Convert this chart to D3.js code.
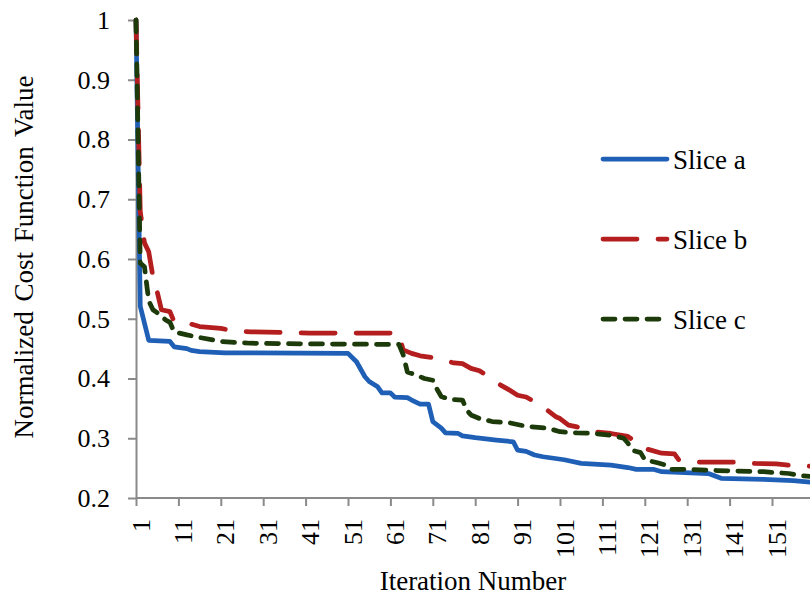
<!DOCTYPE html>
<html>
<head>
<meta charset="utf-8">
<script src="https://cdn.jsdelivr.net/npm/d3@7"></script>
<style>
  body { margin: 0; background: #fff; }
  text { font-family: "Liberation Serif", "Times New Roman", serif; fill: #000; }
</style>
</head>
<body>
<script>
// values: [iteration, normalized cost]
var sliceA = [[1,1.0],[2,0.521],[4,0.464],[9,0.462],[10,0.453],[13,0.450],[14,0.447],[16,0.445],[22,0.443],[51,0.442],
  [53,0.428],[55,0.403],[56,0.395],[58,0.386],[59,0.376],[61,0.376],[62,0.369],[65,0.368],[66,0.364],[68,0.357],
  [70,0.357],[71,0.328],[73,0.317],[74,0.309],[77,0.308],[78,0.304],[81,0.301],[86,0.297],[90,0.294],[91,0.280],
  [93,0.278],[95,0.272],[97,0.269],[102,0.264],[106,0.258],[113,0.255],[117,0.251],[119,0.248],[123,0.248],[125,0.244],
  [136,0.241],[139,0.233],[149,0.231],[156,0.229],[161,0.226]]

var sliceB = [[1,1.0],[2,0.68],[3,0.627],[4,0.612],[5,0.570],[6,0.545],[7,0.515],[9,0.512],[10,0.495],[14,0.491],
  [16,0.487],[21,0.484],[23,0.481],[28,0.478],[36,0.477],[42,0.476],[63,0.476],[64,0.448],[66,0.442],[68,0.438],
  [72,0.434],[76,0.426],[78,0.425],[80,0.417],[82,0.413],[84,0.404],[87,0.389],[89,0.381],[91,0.372],[93,0.369],
  [95,0.361],[98,0.347],[100,0.336],[101,0.333],[103,0.322],[105,0.319],[109,0.311],[113,0.308],[117,0.303],[118,0.298],
  [120,0.285],[121,0.283],[125,0.275],[128,0.274],[129,0.264],[134,0.260],[142,0.260],[147,0.258],[152,0.257],[156,0.254],
  [161,0.253]]

var sliceC = [[1,1.0],[2,0.593],[3,0.587],[4,0.530],[5,0.515],[6,0.510],[8,0.498],[9,0.494],[10,0.478],[13,0.473],
  [15,0.470],[21,0.462],[28,0.459],[40,0.458],[63,0.457],[64,0.440],[65,0.411],[67,0.406],[69,0.400],[71,0.397],
  [72,0.382],[73,0.370],[75,0.365],[78,0.364],[79,0.347],[80,0.339],[82,0.333],[85,0.328],[89,0.326],[93,0.320],
  [98,0.317],[101,0.311],[105,0.309],[109,0.308],[113,0.305],[116,0.300],[117,0.292],[118,0.280],[120,0.276],[121,0.264],
  [124,0.259],[126,0.255],[127,0.248],[131,0.248],[138,0.246],[149,0.244],[155,0.241],[158,0.237],[161,0.236]]

var seriesNames = ["Slice a", "Slice b", "Slice c"]
var xTicks = [1,11,21,31,41,51,61,71,81,91,101,111,121,131,141,151]
var yTicks = [0.2,0.3,0.4,0.5,0.6,0.7,0.8,0.9,1]

var width = 810, height = 595
var margin = {left: 136, top: 20, bottom: 97}

var series = [
  {name: seriesNames[0], data: sliceA, color: "#1f60b6", dash: null},
  {name: seriesNames[1], data: sliceB, color: "#b41e1e", dash: "34 21"},
  {name: seriesNames[2], data: sliceC, color: "#1d3a0a", dash: "12 10"}
]

var x = d3.scaleLinear().domain([1, 161]).range([margin.left, margin.left + 160 * 4.24])
var y = d3.scaleLinear().domain([0.2, 1]).range([height - margin.bottom, margin.top])

var svg = d3.select("body").append("svg")
  .attr("width", width)
  .attr("height", height)

svg.append("rect").attr("width", width).attr("height", height).attr("fill", "#fff")

// axes
var xAxis = svg.append("g")
  .attr("transform", "translate(0," + y(0.2) + ")")
  .call(d3.axisBottom(x).tickValues(xTicks).tickSize(8).tickSizeOuter(0))
xAxis.select(".domain").attr("d", "M" + margin.left + ",0H" + width)
xAxis.selectAll("text")
  .attr("transform", "rotate(-90)")
  .attr("x", -21).attr("y", 0).attr("dy", "0.5em")
  .attr("text-anchor", "end")
  .style("font-size", "26px")

var yAxis = svg.append("g")
  .attr("transform", "translate(" + margin.left + ",0)")
  .call(d3.axisLeft(y).tickValues(yTicks).tickSize(8).tickSizeOuter(0).tickPadding(18).tickFormat(d3.format("~g")))
yAxis.selectAll("text").style("font-size", "26px")

svg.selectAll(".domain, .tick line").attr("stroke", "#8a8a8a").attr("stroke-width", 2)

// lines
var line = d3.line().x(function(d) { return x(d[0]) }).y(function(d) { return y(d[1]) })

svg.selectAll("path.series").data(series)
  .enter()
  .append("path")
  .attr("class", "series")
  .attr("d", function(d) { return line(d.data) })
  .attr("fill", "none")
  .attr("stroke", function(d) { return d.color })
  .attr("stroke-width", 4.75)
  .attr("stroke-dasharray", function(d) { return d.dash })
  .attr("stroke-linecap", "round")
  .attr("stroke-linejoin", "round")

// legend
var legend = svg.selectAll("g.legend").data(series)
  .enter()
  .append("g")
  .attr("class", "legend")
  .attr("transform", function(d, i) { return "translate(603," + (159 + i * 80) + ")" })

legend.append("line")
  .attr("x1", 0).attr("x2", 64)
  .attr("stroke", function(d) { return d.color })
  .attr("stroke-width", 4.75)
  .attr("stroke-dasharray", function(d) { return d.dash })
  .attr("stroke-linecap", "round")

legend.append("text")
  .attr("x", 70).attr("y", 10)
  .style("font-size", "27px")
  .text(function(d) { return d.name })

// axis titles
svg.append("text")
  .attr("x", 473).attr("y", 590)
  .attr("text-anchor", "middle")
  .style("font-size", "27px")
  .text("Iteration Number")

svg.append("text")
  .attr("transform", "translate(33,257) rotate(-90)")
  .attr("text-anchor", "middle")
  .style("font-size", "27px")
  .style("word-spacing", "3px")
  .text("Normalized Cost Function Value")
</script>
</body>
</html>
